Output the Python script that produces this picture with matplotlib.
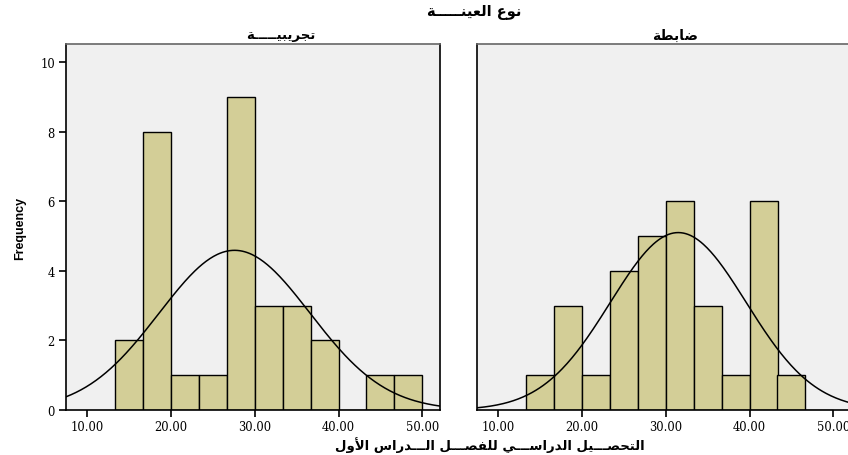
import numpy as np
import matplotlib.pyplot as plt

# histogram bins (width 10/3) and counts
bin_edges = [13.33, 16.67, 20.0, 23.33, 26.67, 30.0, 33.33, 36.67, 40.0, 43.33, 46.67, 50.0]
counts_exp = [2, 8, 1, 1, 9, 3, 3, 2, 0, 1, 1]      # تجريبيـــــة
counts_ctl = [1, 3, 1, 4, 5, 6, 3, 1, 6, 1, 0]      # ضابطة
mean_exp, sd_exp = 27.6, 9.0
mean_ctl, sd_ctl = 31.5, 8.1

x_ticks = [10, 20, 30, 40, 50]
x_ticklabels = ['10.00', '20.00', '30.00', '40.00', '50.00']
y_ticks = [0, 2, 4, 6, 8, 10]

title_top = 'نوع العينـــــة'
title_exp = 'تجريبيـــــة'
title_ctl = 'ضابطة'
x_label = 'التحصـــيل الدراســـي للفصـــل الـــدراس الأول'


# matplotlib has no arabic shaping, so pick presentation forms by hand
# forms: isolated, final, initial, medial
FORMS = {
    'ا': ('\ufe8d', '\ufe8e', None, None),
    'أ': ('\ufe83', '\ufe84', None, None),
    'ب': ('\ufe8f', '\ufe90', '\ufe91', '\ufe92'),
    'ت': ('\ufe95', '\ufe96', '\ufe97', '\ufe98'),
    'ة': ('\ufe93', '\ufe94', None, None),
    'ج': ('\ufe9d', '\ufe9e', '\ufe9f', '\ufea0'),
    'ح': ('\ufea1', '\ufea2', '\ufea3', '\ufea4'),
    'د': ('\ufea9', '\ufeaa', None, None),
    'ر': ('\ufead', '\ufeae', None, None),
    'س': ('\ufeb1', '\ufeb2', '\ufeb3', '\ufeb4'),
    'ص': ('\ufeb9', '\ufeba', '\ufebb', '\ufebc'),
    'ض': ('\ufebd', '\ufebe', '\ufebf', '\ufec0'),
    'ط': ('\ufec1', '\ufec2', '\ufec3', '\ufec4'),
    'ع': ('\ufec9', '\ufeca', '\ufecb', '\ufecc'),
    'ف': ('\ufed1', '\ufed2', '\ufed3', '\ufed4'),
    'ل': ('\ufedd', '\ufede', '\ufedf', '\ufee0'),
    'ن': ('\ufee5', '\ufee6', '\ufee7', '\ufee8'),
    'و': ('\ufeed', '\ufeee', None, None),
    'ي': ('\ufef1', '\ufef2', '\ufef3', '\ufef4'),
    'ـ': ('ـ', 'ـ', 'ـ', 'ـ'),
}
LAM_ALEF = {'ا': ('\ufefb', '\ufefc'), 'أ': ('\ufef7', '\ufef8')}


def dual(c):
    return c in FORMS and FORMS[c][2] is not None


def shape(s):
    out = []
    i = 0
    while i < len(s):
        c = s[i]
        prev = s[i - 1] if i > 0 else ''
        joins_prev = dual(prev) and c in FORMS
        if c == 'ل' and i + 1 < len(s) and s[i + 1] in LAM_ALEF:
            out.append(LAM_ALEF[s[i + 1]][1 if joins_prev else 0])
            i += 2
            continue
        if c not in FORMS:
            out.append(c)
            i += 1
            continue
        nxt = s[i + 1] if i + 1 < len(s) else ''
        joins_next = dual(c) and nxt in FORMS
        iso, fin, ini, med = FORMS[c]
        if joins_prev and joins_next:
            out.append(med)
        elif joins_prev:
            out.append(fin)
        elif joins_next:
            out.append(ini)
        else:
            out.append(iso)
        i += 1
    return ''.join(out)[::-1]


bar_color = '#d3ce97'
bg_color = '#f0f0f0'

fig = plt.figure(figsize=(8.48, 4.56), dpi=100)
ax1 = fig.add_axes([66 / 848, 45 / 456, 374 / 848, 366 / 456])
ax2 = fig.add_axes([477 / 848, 45 / 456, 374 / 848, 366 / 456])

xs = np.linspace(7.5, 52.1, 300)
width = bin_edges[1] - bin_edges[0]
n_total = sum(counts_exp)

for ax, counts, mu, sd in [(ax1, counts_exp, mean_exp, sd_exp),
                           (ax2, counts_ctl, mean_ctl, sd_ctl)]:
    ax.set_facecolor(bg_color)
    ax.bar(bin_edges[:-1], counts, width=width, align='edge',
           color=bar_color, edgecolor='black', linewidth=1.0, zorder=2)
    curve = n_total * width / (sd * np.sqrt(2 * np.pi)) * np.exp(-0.5 * ((xs - mu) / sd) ** 2)
    ax.plot(xs, curve, color='black', linewidth=1.1, zorder=3)
    ax.set_xlim(7.5, 52.1)
    ax.set_ylim(0, 10.52)
    ax.set_xticks(x_ticks)
    ax.set_xticklabels(x_ticklabels, family='DejaVu Serif', fontsize=8.3)
    ax.tick_params(axis='x', direction='out', length=5, width=1.2, pad=2)
    for sp in ax.spines.values():
        sp.set_linewidth(1.2)
    ax.spines['top'].set_color('#666666')

ax1.set_yticks(y_ticks)
ax1.set_yticklabels([str(v) for v in y_ticks], family='DejaVu Serif', fontsize=8.3)
ax1.tick_params(axis='y', direction='out', length=5, width=1.2, pad=3)
ax1.set_ylabel('Frequency', family='Liberation Sans', fontweight='bold',
               fontsize=9, labelpad=10)
ax2.set_yticks([])

arab = dict(family='DejaVu Sans', fontweight='bold', ha='center', va='center')
fig.text(281 / 848, 1 - 36 / 456, shape(title_exp), fontsize=9.5, **arab)
fig.text(675 / 848, 1 - 36 / 456, shape(title_ctl), fontsize=10, **arab)
fig.text(474 / 848, 1 - 13 / 456, shape(title_top), fontsize=10.5, **arab)
fig.text(490 / 848, 1 - 445 / 456, shape(x_label), fontsize=9.5, **arab)

fig.savefig('out.png', dpi=100)
